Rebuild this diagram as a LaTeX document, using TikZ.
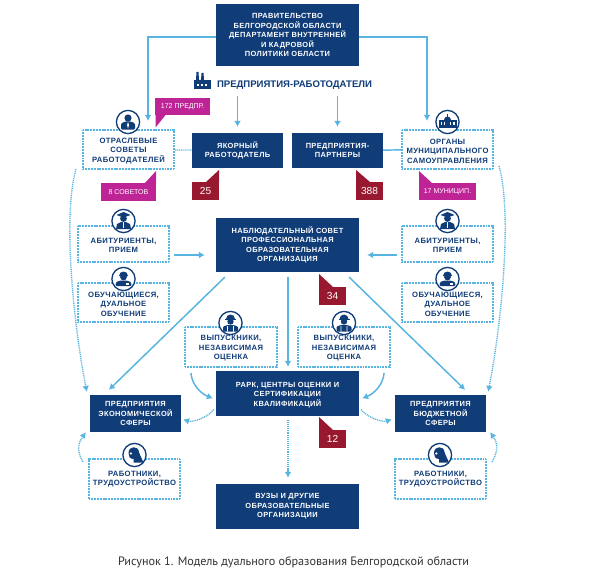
\documentclass[tikz,border=0pt]{standalone}
\usepackage{fontspec}
\setmainfont{Liberation Sans}
\newfontfamily\boxfont[LetterSpace=5]{Liberation Sans}
\newfontfamily\capfont{PT Sans}
\usetikzlibrary{arrows.meta}
\definecolor{ModelNavy}{RGB}{16, 60, 120}
\definecolor{ModelLink}{RGB}{88, 180, 224}
\definecolor{ModelMagenta}{RGB}{190, 36, 150}
\definecolor{ModelRed}{RGB}{152, 24, 48}
\definecolor{ModelCaption}{RGB}{50, 50, 50}
\newcommand{\lowtext}{\rule{0pt}{12pt}}
\tikzset{
  navybox/.style 2 args={fill=ModelNavy, text=white, inner sep=0pt, align=center,
    minimum width=#1, minimum height=#2, font=\boxfont\fontsize{10.6}{13.5}\selectfont\bfseries},
  dotbox/.style 2 args={draw=ModelLink, line width=3pt, dash pattern=on 1.5pt off 0.7pt, fill=white,
    text=ModelNavy, inner sep=0pt, align=center, minimum width=#1, minimum height=#2,
    font=\boxfont\fontsize{10.9}{13.5}\selectfont\bfseries},
  iconring/.style={circle, draw=ModelNavy, line width=1.9pt, fill=white, minimum size=11.6mm, inner sep=0pt},
  linkline/.style={draw=ModelLink, line width=2.1pt, -{Latex[length=8.5pt,width=9.5pt]}},
  dotline/.style={draw=ModelLink, line width=1.9pt, dash pattern=on 1.5pt off 1.2pt, -{Latex[length=8.5pt,width=9.5pt]}},
  plainline/.style={draw=ModelLink, line width=2.1pt},
  pics/tieuser/.style={code={
    \fill[ModelNavy] (0,-4) circle (3.6);
    \fill[ModelNavy, rounded corners=1.5pt] (-7,7.5) -- (-7,1.5) -- (-3,-0.5) -- (3,-0.5) -- (7,1.5) -- (7,7.5) -- cycle;
    \fill[white] (0,0) -- (1,3) -- (0,6.5) -- (-1,3) -- cycle;
  }},
  pics/townhall/.style={code={
    \fill[ModelNavy] (-9,6) rectangle (9,-2);
    \fill[ModelNavy] (-3.5,-2) arc (180:0:3.5 and -3.5);
    \fill[ModelNavy] (-0.4,-5) rectangle (0.4,-8);
    \foreach \wx in {-7,-3.6,2.1,5.5} {\fill[white] (\wx,0) rectangle ++(1.5,3);}
  }},
  pics/gradcap/.style={code={
    \fill[ModelNavy] (-7,-6) -- (0,-9) -- (7,-6) -- (0,-3.5) -- cycle;
    \fill[ModelNavy] (0,-2.5) circle (3.4);
    \fill[ModelNavy] (-7.5,8) -- (-6.5,3) -- (-2.5,1) -- (2.5,1) -- (6.5,3) -- (7.5,8) -- cycle;
    \fill[white] (-0.7,1) rectangle (0.7,7);
  }},
  pics/student/.style={code={
    \fill[ModelNavy] (-4.5,-3) arc (180:0:4.5 and -4.5) -- cycle;
    \fill[ModelNavy] (0,-2) circle (3.4);
    \fill[ModelNavy, rounded corners=1.5pt] (-8,7) -- (-7.5,3) -- (-3,1.5) -- (3,1.5) -- (7.5,3) -- (8,7) -- cycle;
    \fill[white] (2,4) rectangle (5.5,5.5);
  }},
  pics/welder/.style={code={
    \fill[ModelNavy] (-4.5,-4) arc (180:0:4.5 and -4.5) -- cycle;
    \fill[ModelNavy] (-5.5,-4.5) rectangle (5.5,-3.4);
    \fill[ModelNavy] (0,-1.5) circle (3.2);
    \fill[ModelNavy, rounded corners=1.5pt] (-7.5,8.5) -- (-7.5,3.5) -- (-3,2) -- (3,2) -- (7.5,3.5) -- (7.5,8.5) -- cycle;
    \fill[white] (-3.4,3) rectangle (-2.6,8.5) (2.6,3) rectangle (3.4,8.5);
  }},
  pics/profile/.style={code={
    \fill[ModelNavy] (-6,-2) .. controls (-6,-9.5) and (4,-9.5) .. (4.5,-3)
      .. controls (5,-1) and (7,3) .. (9,7.5) -- (-1,7.5) -- (-1,4) .. controls (-5,4) and (-6,1) .. cycle;
    \fill[white] (-3.6,-1.5) circle (1.2);
  }},
}
\begin{document}
\begin{tikzpicture}[x=0.5mm,y=-0.5mm]
  \path[use as bounding box] (0,0) rectangle (591,586);
  \fill[white] (0,0) rectangle (591,586);

  % Dark boxes
  \node[navybox={71.5mm}{31mm}] (gov) at (287.5,35) {ПРАВИТЕЛЬСТВО\\БЕЛГОРОДСКОЙ ОБЛАСТИ\\ДЕПАРТАМЕНТ ВНУТРЕННЕЙ\\И КАДРОВОЙ\\ПОЛИТИКИ ОБЛАСТИ};
  \node[navybox={45.5mm}{17.5mm}] (yakor) at (237.5,150.5) {ЯКОРНЫЙ\\РАБОТОДАТЕЛЬ};
  \node[navybox={45.5mm}{17.5mm}] (partn) at (337.5,150.5) {ПРЕДПРИЯТИЯ-\\ПАРТНЕРЫ};
  \node[navybox={71.5mm}{27mm}] (nabl) at (287.5,245) {НАБЛЮДАТЕЛЬНЫЙ СОВЕТ\\ПРОФЕССИОНАЛЬНАЯ\\ОБРАЗОВАТЕЛЬНАЯ\\ОРГАНИЗАЦИЯ};
  \node[navybox={71.5mm}{22.5mm}] (rark) at (287.5,393.5) {\lowtext РАРК, ЦЕНТРЫ ОЦЕНКИ И\\СЕРТИФИКАЦИИ\\КВАЛИФИКАЦИЙ};
  \node[navybox={71.5mm}{22.5mm}] (vuz) at (287.5,506.5) {ВУЗЫ И ДРУГИЕ\\ОБРАЗОВАТЕЛЬНЫЕ\\ОРГАНИЗАЦИИ};
  \node[navybox={45.5mm}{18.5mm}] (ekon) at (135.5,413.5) {ПРЕДПРИЯТИЯ\\ЭКОНОМИЧЕСКОЙ\\СФЕРЫ};
  \node[navybox={45.5mm}{18.5mm}] (byud) at (440.5,413.5) {ПРЕДПРИЯТИЯ\\БЮДЖЕТНОЙ\\СФЕРЫ};

  % Dotted boxes
  \node[dotbox={45.5mm}{19.5mm}] (sovet) at (128.5,149.5) {\lowtext ОТРАСЛЕВЫЕ\\СОВЕТЫ\\РАБОТОДАТЕЛЕЙ};
  \node[dotbox={45.5mm}{19.5mm}] (organ) at (447.5,149.5) {\lowtext ОРГАНЫ\\МУНИЦИПАЛЬНОГО\\САМОУПРАВЛЕНИЯ};
  \node[dotbox={45.5mm}{18mm}] (abiL) at (123.5,244) {\lowtext АБИТУРИЕНТЫ,\\ПРИЕМ};
  \node[dotbox={45.5mm}{18mm}] (abiR) at (447.5,244) {\lowtext АБИТУРИЕНТЫ,\\ПРИЕМ};
  \node[dotbox={45.5mm}{19.5mm}] (obuL) at (123.5,302.5) {\lowtext ОБУЧАЮЩИЕСЯ,\\ДУАЛЬНОЕ\\ОБУЧЕНИЕ};
  \node[dotbox={45.5mm}{19.5mm}] (obuR) at (447.5,302.5) {\lowtext ОБУЧАЮЩИЕСЯ,\\ДУАЛЬНОЕ\\ОБУЧЕНИЕ};
  \node[dotbox={46mm}{20mm}] (vypL) at (231,347) {\lowtext ВЫПУСКНИКИ,\\НЕЗАВИСИМАЯ\\ОЦЕНКА};
  \node[dotbox={46mm}{20mm}] (vypR) at (344,347) {\lowtext ВЫПУСКНИКИ,\\НЕЗАВИСИМАЯ\\ОЦЕНКА};
  \node[dotbox={45.5mm}{20mm}] (rabL) at (134.5,479) {РАБОТНИКИ,\\ТРУДОУСТРОЙСТВО};
  \node[dotbox={45.5mm}{20mm}] (rabR) at (440.5,479) {РАБОТНИКИ,\\ТРУДОУСТРОЙСТВО};

  % Heading with factory
  \node[text=ModelNavy, font=\fontsize{13.6}{15}\selectfont\bfseries, inner sep=0pt] (heading) at (294.5,85) {ПРЕДПРИЯТИЯ-РАБОТОДАТЕЛИ};
  \fill[ModelNavy] (194,89.5) -- (194,80) -- (211,80) -- (211,89.5) -- cycle;
  \fill[ModelNavy] (196,80) -- (196.5,72) -- (198.5,72) -- (199,80) -- (201,80) -- (201.5,73) -- (203.5,73) -- (204,80) -- cycle;
  \foreach \wx in {197,201,205} {\fill[white] (\wx,84) rectangle ++(2.4,2);}

  % Links
  \draw[linkline] ([shift={(0,2)}]gov.west) -| ([shift={(19.5,-8)}]sovet.north);
  \draw[linkline] ([shift={(0,2)}]gov.east) -| ([shift={(-20.5,-8)}]organ.north);
  \draw[linkline] ([shift={(-57,7)}]heading.south) -- ([shift={(0,-6)}]yakor.north);
  \draw[linkline] ([shift={(43,7)}]heading.south) -- ([shift={(0,-6)}]partn.north);
  \draw[dotline, -] (sovet) -- (yakor);
  \draw[plainline] (partn) -- (organ);
  \draw[linkline] ([shift={(4,11)}]abiL.east) -- ([shift={(-11,10)}]nabl.west);
  \draw[linkline] ([shift={(-4,11)}]abiR.west) -- ([shift={(8,10)}]nabl.east);
  \draw[linkline] ([shift={(0.5,5)}]nabl.south) -- ([shift={(0.5,-4)}]rark.north);
  \draw[linkline] ([shift={(9,5)}]nabl.south west) -- ([shift={(19,-5)}]ekon.north west);
  \draw[linkline] ([shift={(-10,5)}]nabl.south east) -- ([shift={(-21,-5)}]byud.north east);
  \draw[dotline] ([shift={(0.5,4)}]rark.south) -- ([shift={(0.5,-6)}]vuz.north);
  \draw[linkline] ([shift={(7,5)}]vypL.south west) .. controls +(1,12) and +(-12,-5) .. ([shift={(-3,5)}]rark.west);
  \draw[linkline] ([shift={(-7,5)}]vypR.south east) .. controls +(-1,12) and +(12,-5) .. ([shift={(3,5)}]rark.east);
  \draw[dotline] ([shift={(-2,16)}]rark.west) .. controls +(-6,8) and +(10,3) .. ([shift={(2,6)}]ekon.east);
  \draw[dotline] ([shift={(2,16)}]rark.east) .. controls +(6,8) and +(-10,3) .. ([shift={(-3,6)}]byud.west);
  \draw[dotline] ([shift={(-5,4)}]rabL.north west) .. controls +(-8,-14) and +(-6,9) .. ([shift={(-4,0)}]ekon.south west);
  \draw[dotline] ([shift={(5,4)}]rabR.north east) .. controls +(8,-14) and +(6,9) .. ([shift={(4,0)}]byud.south east);
  \draw[dotline] ([shift={(-6,-1)}]sovet.south west) .. controls +(-14,50) and +(-12,-60) .. ([shift={(-3,-3)}]ekon.north west);
  \draw[dotline] ([shift={(5,-4)}]organ.south east) .. controls +(14,50) and +(12,-60) .. ([shift={(2,-3)}]byud.north east);

  % Tags with tails
  \foreach \nm/\cx/\cy/\tagw/\tagh/\tipx/\tipy/\basex/\basey/\col/\fs/\txt in {
    tagA/182.5/106.5/55/17/-27/21/-17/8.5/ModelMagenta/10/172 ПРЕДПР.,
    tagB/128.5/192/55/18/27.5/-21/16.5/-9/ModelMagenta/10/8 СОВЕТОВ,
    tagC/447.5/191.5/57/17/-28.5/-20.5/-15.5/-8.5/ModelMagenta/10/17 МУНИЦИП.,
    tagD/205.5/191/27/18/13.5/-21/0.5/-9/ModelRed/14.5/25,
    tagE/369.5/191/27/18/-13.5/-21/0.5/-9/ModelRed/14.5/388,
    tagF/332.5/296/27/18/-13.5/-22/0.5/-9/ModelRed/14.5/34,
    tagG/332.5/439/27/18/-13.5/-22/0.5/-9/ModelRed/14.5/12}{
    \node[fill=\col, text=white, inner sep=0pt, minimum width=\tagw*0.5mm, minimum height=\tagh*0.5mm,
      font=\fontsize{\fs}{15}\selectfont] (\nm) at (\cx,\cy) {\txt};
    \fill[\col] (\cx+\tipx,\cy+\tipy) -- (\cx+\basex,\cy+\basey) -- (\cx+\tipx,\cy+\basey) -- cycle;
  }

  % Icons on top of the boxes
  \foreach \nm/\cx/\cy/\kind in {
    ringA/128/122/tieuser, ringB/447.5/122/townhall,
    ringC/123.5/221/gradcap, ringD/447.5/221/gradcap,
    ringE/123.5/279/student, ringF/447.5/279/student,
    ringG/230.5/323/welder, ringH/344/323/welder,
    ringI/134.5/455/profile, ringJ/440/455/profile}{
    \node[iconring] (\nm) at (\cx,\cy) {};
    \pic at (\nm) {\kind};
  }

  % Caption
  \node[text=ModelCaption, font=\capfont\fontsize{17.3}{20}\selectfont, inner sep=0pt] (caption) at (293.5,562) {Рисунок 1. Модель дуального образования Белгородской области};
\end{tikzpicture}
\end{document}
